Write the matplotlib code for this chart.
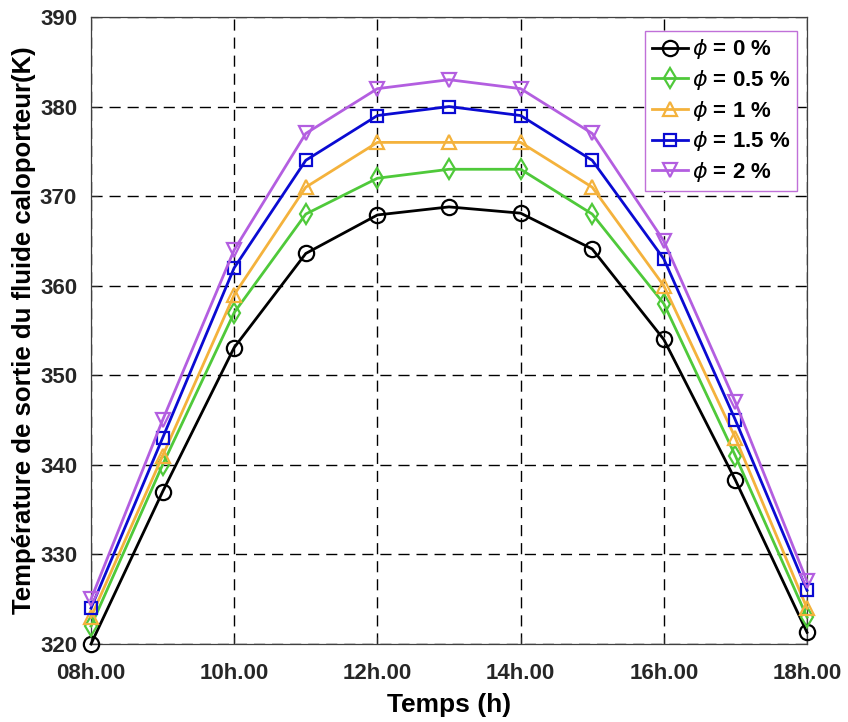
import matplotlib
matplotlib.use("Agg")
import matplotlib.pyplot as plt

plt.rcParams['font.family'] = ['Liberation Sans', 'DejaVu Sans']
plt.rcParams['mathtext.fontset'] = 'dejavusans'

# ---- 数据 ----
hours = [8, 9, 10, 11, 12, 13, 14, 15, 16, 17, 18]
t_phi0 = [320.0, 337.0, 353.1, 363.6, 367.9, 368.8, 368.1, 364.1, 354.0, 338.3, 321.3]
t_phi05 = [322.0, 340.0, 357.0, 368.0, 372.0, 373.0, 373.0, 368.0, 358.0, 341.0, 323.0]
t_phi1 = [323.0, 341.0, 359.0, 371.0, 376.0, 376.0, 376.0, 371.0, 360.0, 343.0, 324.0]
t_phi15 = [324.0, 343.0, 362.0, 374.0, 379.0, 380.0, 379.0, 374.0, 363.0, 345.0, 326.0]
t_phi2 = [325.0, 345.0, 364.0, 377.0, 382.0, 383.0, 382.0, 377.0, 365.0, 347.0, 327.0]
xtick_vals = [8, 10, 12, 14, 16, 18]
xtick_labels = ["08h.00", "10h.00", "12h.00", "14h.00", "16h.00", "18h.00"]

series = [
    (t_phi0, "0", "#000000", "o"),
    (t_phi05, "0.5", "#4fc93a", "d"),
    (t_phi1, "1", "#f4b23c", "^"),
    (t_phi15, "1.5", "#0a0ad2", "s"),
    (t_phi2, "2", "#b35ee0", "v"),
]

fig = plt.figure(figsize=(8.48, 7.22), dpi=100)
ax = fig.add_axes([91 / 848, 1 - 644 / 722, (807 - 91) / 848, (644 - 17) / 722])

for vals, lab, col, mk in series:
    ms = {"o": 11, "d": 10, "^": 10, "s": 8, "v": 10}[mk]
    ax.plot(hours, vals, color=col, marker=mk, ms=ms, mfc="none", mec=col,
            mew=1.6, lw=2.0, label=rf"$\phi$ = {lab} %", clip_on=False, zorder=3)

ax.set_xlim(8, 18)
ax.set_ylim(320, 390)
ax.set_xticks(xtick_vals)
ax.set_xticklabels(xtick_labels)
ax.set_yticks(range(320, 391, 10))
for lbl in ax.get_xticklabels() + ax.get_yticklabels():
    lbl.set_fontweight("bold")
    lbl.set_fontsize(16)
    lbl.set_color("#262626")
ax.tick_params(direction="in", length=5, width=0.8, colors="#262626")
ax.tick_params(axis="x", pad=14)
ax.tick_params(axis="y", pad=10)
ax.grid(True, ls=(0, (8, 5)), color="#000000", lw=1.0)
ax.set_axisbelow(True)
for sp in ax.spines.values():
    sp.set_color("#404040")
    sp.set_linewidth(0.9)

ax.set_xlabel("Temps (h)", fontsize=19, fontweight="bold", labelpad=6)
ax.set_ylabel("Température de sortie du fluide caloporteur(K)", fontsize=18.5,
              fontweight="bold", labelpad=3)

leg = ax.legend(loc="upper right", bbox_to_anchor=(0.986, 0.978),
                prop={"weight": "bold", "size": 16}, fancybox=False,
                framealpha=1, edgecolor="#c070d8", handlelength=1.6,
                handletextpad=0.2, borderpad=0.3, labelspacing=0.3,
                borderaxespad=0)
leg.get_frame().set_linewidth(1.0)

fig.savefig("out.png", dpi=100)
